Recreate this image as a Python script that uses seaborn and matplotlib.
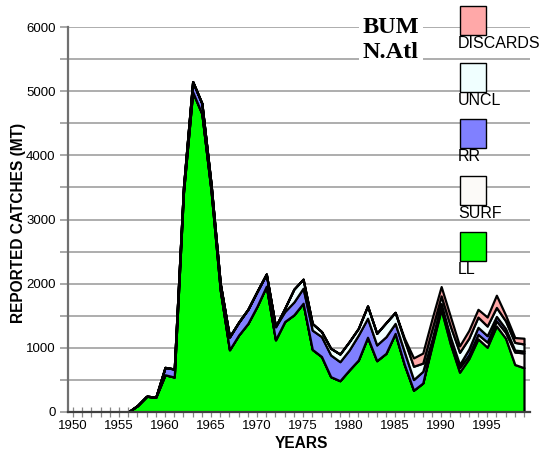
import numpy as np
import pandas as pd
import matplotlib
matplotlib.use("Agg")
import matplotlib.pyplot as plt
import seaborn as sns
from matplotlib.patches import Rectangle

years = list(range(1950, 2000))

ll = [0, 0, 0, 0, 0, 0, 0, 100, 245, 233,
      580, 545, 3420, 4990, 4650, 3450, 1900, 970, 1200, 1380,
      1650, 1960, 1125, 1410, 1515, 1695, 975, 865, 550, 488,
      654, 810, 1165, 800, 914, 1225, 740, 340, 451, 1030,
      1600, 1060, 620, 830, 1140, 1010, 1340, 1150, 740, 690]
surf = [0] * 39 + [40, 50, 60, 70, 60, 70, 80, 80, 90, 195, 230]
rr = [0] * 10 + [115, 125, 80, 160, 160, 100, 100, 200, 200, 220,
                 230, 190, 205, 155, 200, 235, 300, 310, 338, 296,
                 312, 389, 296, 245, 259, 156, 200, 166, 182, 60,
                 40, 50, 50, 90, 110, 100, 70, 60, 30, 30]
uncl = [0] * 23 + [50, 200, 140, 104, 78, 104, 119, 129, 104, 192,
                   181, 218, 172, 180, 207, 129, 160, 120, 170, 190,
                   170, 160, 150, 140, 120, 120, 110]
discards = [0] * 36 + [30, 130, 156, 160, 145, 150, 100, 120, 120, 140,
                       190, 90, 75, 90]

series_names = ["LL", "SURF", "RR", "UNCL", "DISCARDS"]
series_colors = ["#00FF00", "#FCFAF8", "#8080FF", "#F0FFFF", "#FFA8A8"]
legend_order = ["DISCARDS", "UNCL", "RR", "SURF", "LL"]

df = pd.DataFrame({"year": years, "LL": ll, "SURF": surf, "RR": rr,
                   "UNCL": uncl, "DISCARDS": discards})

sns.set_theme(style="white")
plt.rcParams["font.family"] = ["Liberation Sans", "DejaVu Sans"]
plt.rcParams["text.color"] = "black"
plt.rcParams["axes.labelcolor"] = "black"
plt.rcParams["xtick.color"] = "black"
plt.rcParams["ytick.color"] = "black"

W, H = 541, 457
fig = plt.figure(figsize=(W / 100, H / 100), dpi=100)
ax_l, ax_r, ax_t, ax_b = 68, 530, 27, 412
ax = fig.add_axes([ax_l / W, 1 - ax_b / H, (ax_r - ax_l) / W, (ax_b - ax_t) / H])

# gridlines
ax.set_ylim(0, 6000)
ax.set_xlim(1950 - 5 / 9.2, 1999 + 6 / 9.2)
ax.set_yticks(np.arange(0, 6001, 500))
ax.set_yticklabels([str(v) if v % 1000 == 0 else "" for v in range(0, 6001, 500)])
ax.yaxis.grid(True, color="#A0A0A0", linewidth=1.2, zorder=0)
ax.set_axisbelow(True)

ax.stackplot(df["year"], *[df[n] for n in series_names], colors=series_colors,
             edgecolor="black", linewidth=1.6, zorder=2)

ax.set_xticks(years)
ax.set_xticklabels([str(y) if y % 5 == 0 else "" for y in years])
ax.tick_params(axis="x", direction="inout", length=7, width=0.9, color="#888888",
               labelsize=9.5, pad=2, labelcolor="black", bottom=True)
ax.tick_params(axis="y", direction="out", length=6, width=1.2, color="#999999",
               labelsize=9.5, pad=3, labelcolor="black", left=True)

for s in ["top", "right"]:
    ax.spines[s].set_visible(False)
ax.spines["left"].set_color("#707070")
ax.spines["left"].set_linewidth(1.6)
ax.spines["bottom"].set_color("#404040")
ax.spines["bottom"].set_linewidth(1.6)

ax.set_ylabel("REPORTED CATCHES (MT)", fontsize=11.2, fontweight="bold", color="black")
ax.yaxis.set_label_coords((26 - ax_l) / (ax_r - ax_l), 0.49)
ax.set_xlabel("YEARS", fontsize=11.2, fontweight="bold", color="black")
ax.xaxis.set_label_coords((301 - ax_l) / (ax_r - ax_l), (ax_b - 436) / (ax_b - ax_t))

# title box
fig.text(391 / W, 1 - 40 / H, "BUM\nN.Atl", ha="center", va="center",
         fontsize=17.5, fontweight="bold", family=["Liberation Serif", "DejaVu Serif"],
         linespacing=1.3, color="black",
         bbox=dict(facecolor="white", edgecolor="none", pad=2.5))

# legend
color_map = dict(zip(series_names, series_colors))
patch_tops = [6, 63, 119, 176, 232]
for name, top in zip(legend_order, patch_tops):
    fig.patches.append(Rectangle((459.5 / W, 1 - (top + 29) / H), 26.5 / W, 29 / H,
                                 transform=fig.transFigure, facecolor=color_map[name],
                                 edgecolor="black", linewidth=1.0, zorder=5))
    fig.text(458 / W, 1 - (top + 30) / H, name, ha="left", va="top",
             fontsize=11.5, color="black", zorder=6)

fig.savefig("out.png", dpi=100)
